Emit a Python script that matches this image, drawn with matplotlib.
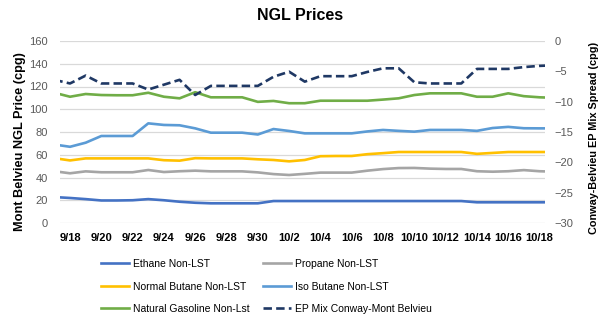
import matplotlib.pyplot as plt

plt.rcParams['font.family'] = ['Liberation Sans', 'DejaVu Sans']

# daily dates, 9/17 .. 10/19 (ends are clipped by the axis)
dates = ['9/17', '9/18', '9/19', '9/20', '9/21', '9/22', '9/23', '9/24', '9/25', '9/26',
         '9/27', '9/28', '9/29', '9/30', '10/1', '10/2', '10/3', '10/4', '10/5', '10/6',
         '10/7', '10/8', '10/9', '10/10', '10/11', '10/12', '10/13', '10/14', '10/15',
         '10/16', '10/17', '10/18', '10/19']

ethane = [22.8, 22.0, 21.0, 19.8, 19.8, 20.0, 21.0, 20.0, 18.7, 17.8, 17.3, 17.3, 17.3, 17.3,
          19.3, 19.3, 19.3, 19.3, 19.3, 19.3, 19.3, 19.3, 19.3, 19.3, 19.3, 19.3, 19.3,
          18.2, 18.2, 18.2, 18.2, 18.2, 18.2]
propane = [45.5, 43.7, 45.4, 44.6, 44.6, 44.6, 46.6, 44.8, 45.5, 46.0, 45.4, 45.4, 45.4, 44.5,
           43.0, 42.2, 43.2, 44.3, 44.3, 44.3, 46.0, 47.4, 48.3, 48.4, 47.8, 47.5, 47.5,
           45.5, 45.1, 45.5, 46.5, 45.5, 45.1]
n_butane = [57.0, 55.0, 56.8, 56.8, 56.8, 56.8, 56.8, 55.2, 54.8, 57.0, 56.8, 56.8, 56.8, 56.0,
            55.4, 54.2, 55.4, 58.7, 58.9, 58.9, 60.5, 61.4, 62.4, 62.4, 62.4, 62.4, 62.4,
            60.8, 61.6, 62.4, 62.4, 62.4, 62.4]
iso_butane = [69.0, 67.0, 70.6, 76.5, 76.5, 76.5, 87.6, 86.2, 85.9, 83.2, 79.4, 79.4, 79.4, 77.8,
              82.6, 80.9, 78.8, 78.8, 78.8, 78.8, 80.5, 81.8, 81.0, 80.3, 81.8, 81.8, 81.8,
              81.0, 83.5, 84.5, 83.3, 83.2, 83.2]
nat_gasoline = [114.5, 111.0, 113.4, 112.5, 112.3, 112.3, 114.5, 111.0, 109.6, 115.0, 110.5,
                110.5, 110.5, 106.5, 107.3, 105.3, 105.3, 107.5, 107.5, 107.5, 107.5, 108.5,
                109.6, 112.5, 114.0, 114.0, 114.0, 111.0, 111.0, 114.0, 111.5, 110.5, 110.0]
ep_mix = [-6.4, -7.0, -5.7, -7.0, -7.0, -7.0, -8.0, -7.2, -6.4, -8.9, -7.4, -7.4, -7.4, -7.4,
          -5.9, -5.06, -6.7, -5.8, -5.8, -5.8, -5.1, -4.5, -4.5, -6.8, -7.0, -7.0, -7.0,
          -4.6, -4.6, -4.6, -4.3, -4.1, -4.0]

x = list(range(-1, len(dates) - 1))  # 9/18 -> 0

fig = plt.figure(figsize=(6.05, 3.35), dpi=100)
ax = fig.add_axes([60 / 605, 1 - 223 / 335, 485 / 605, 182 / 335])
ax2 = ax.twinx()

lw = 1.9
l1, = ax.plot(x, ethane, color='#4472C4', lw=lw, label='Ethane Non-LST')
l2, = ax.plot(x, propane, color='#A5A5A5', lw=lw, label='Propane Non-LST')
l3, = ax.plot(x, n_butane, color='#FFC000', lw=lw, label='Normal Butane Non-LST')
l4, = ax.plot(x, iso_butane, color='#5B9BD5', lw=lw, label='Iso Butane Non-LST')
l5, = ax.plot(x, nat_gasoline, color='#70AD47', lw=lw, label='Natural Gasoline Non-Lst')
l6, = ax2.plot(x, ep_mix, color='#1F3864', lw=lw, dashes=(3.2, 1.6),
               label='EP Mix Conway-Mont Belvieu')

ax.set_xlim(-0.64, 30.35)
ax.set_ylim(0, 160)
ax.set_yticks(range(0, 161, 20))
ax2.set_ylim(-30, 0)
ax2.set_yticks(range(-30, 1, 5))
ax.set_xticks(range(0, 31, 2))
ax.set_xticklabels(dates[1::2], fontweight='bold', fontsize=8)

ax.yaxis.grid(True, color='#D9D9D9', lw=0.9)
ax.set_axisbelow(True)
for a in (ax, ax2):
    for s in a.spines.values():
        s.set_visible(False)
ax.tick_params(axis='y', length=0, pad=9, labelsize=8, labelcolor='#595959')
ax.tick_params(axis='x', length=0, pad=7)
ax2.tick_params(axis='y', length=0, pad=7, labelsize=8, labelcolor='#595959')

fig.text(300 / 605, 1 - 15 / 335, 'NGL Prices', ha='center', va='center',
         fontsize=11.5, fontweight='bold')
fig.text(20 / 605, 1 - 142 / 335, 'Mont Belvieu NGL Price (cpg)', rotation=90,
         ha='center', va='center', fontsize=9.2, fontweight='bold')
fig.text(594 / 605, 1 - 138 / 335, 'Conway-Belvieu EP Mix Spread (cpg)', rotation=90,
         ha='center', va='center', fontsize=7.8, fontweight='bold')

handles = [l1, l3, l5, l2, l4, l6]
fig.legend(handles=handles, labels=[h.get_label() for h in handles], ncol=2,
           loc='upper left', bbox_to_anchor=(101 / 605, 1 - 259 / 335), frameon=False,
           fontsize=7.5, handlelength=2.7, handletextpad=0.35, columnspacing=1.3,
           labelspacing=1.2, borderpad=0, borderaxespad=0)

fig.savefig('out.png', dpi=100)
